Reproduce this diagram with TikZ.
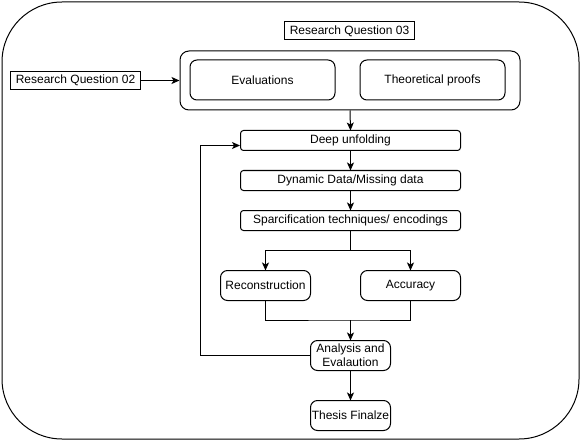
\documentclass[tikz,border=0pt]{standalone}
\usepackage{fontspec}
\setmainfont{Liberation Sans}
\usetikzlibrary{arrows.meta}
\begin{document}
\begin{tikzpicture}[x=1pt,y=-1pt,line width=1pt,
  txt/.style={font=\fontsize{12}{14}\selectfont, inner sep=0pt, outer sep=0pt, align=center},
  sq/.style={txt, draw},
  rbox/.style={txt, draw, rounded corners=3pt},
  bigbox/.style={txt, draw, rounded corners=7pt},
  arr/.style={-{Stealth[length=8pt,width=7pt,inset=2pt]}}]
\useasboundingbox (0,0) rectangle (581,441);
\node[draw, rounded corners=60pt, minimum width=577pt, minimum height=437pt, inner sep=0pt] (frame) at (290.5,220.5) {};
\node[sq, minimum width=130pt, minimum height=18pt] (rq3) at (349.5,31) {Research Question 03};
\node[draw, rounded corners=9pt, minimum width=340pt, minimum height=59pt, inner sep=0pt] (grp) at (350,80.5) {};
\node[bigbox, minimum width=145pt, minimum height=40pt] (eval) at (262.5,80) {Evaluations};
\node[bigbox, minimum width=145pt, minimum height=40pt] (theo) at (432.5,80) {Theoretical proofs};
\node[sq, minimum width=130pt, minimum height=18pt] (rq2) at (75.5,80.5) {Research Question 02};
\node[rbox, minimum width=220pt, minimum height=20pt] (deep) at (350.5,140.5) {Deep unfolding};
\node[rbox, minimum width=220pt, minimum height=20pt] (dyn) at (350.5,180.5) {Dynamic Data/Missing data};
\node[rbox, minimum width=220pt, minimum height=20pt] (spar) at (350.5,220.5) {Sparcification techniques/ encodings};
\node[bigbox, minimum width=90pt, minimum height=30pt] (rec) at (265.5,285.5) {Reconstruction};
\node[bigbox, minimum width=100pt, minimum height=30pt] (acc) at (410.5,285.5) {Accuracy};
\node[bigbox, minimum width=80pt, minimum height=30pt] (ana) at (350.5,355.5) {Analysis and\\Evalaution};
\node[bigbox, minimum width=80pt, minimum height=30pt] (thesis) at (350.5,415.5) {Thesis Finalze};
\coordinate (split) at (350.5,250);
\coordinate (merge) at (350.5,320);
\coordinate (loop) at (200.5,355.5);
\coordinate (entry) at (240,145.5);
\draw[arr] (rq2.east) -- (grp.west |- rq2.east);
\draw[arr] (grp.south) -- (deep.north);
\draw[arr] (deep.south) -- (dyn.north);
\draw[arr] (dyn.south) -- (spar.north);
\draw (spar.south) -- (split);
\draw[arr] (split) -| (rec.north);
\draw[arr] (split) -| (acc.north);
\draw (rec.south) |- (merge) -| (acc.south);
\draw[arr] (merge) -- (ana.north);
\draw[arr] (ana.west) -- (loop) |- (entry);
\draw[arr] (ana.south) -- (thesis.north);
\end{tikzpicture}
\end{document}
